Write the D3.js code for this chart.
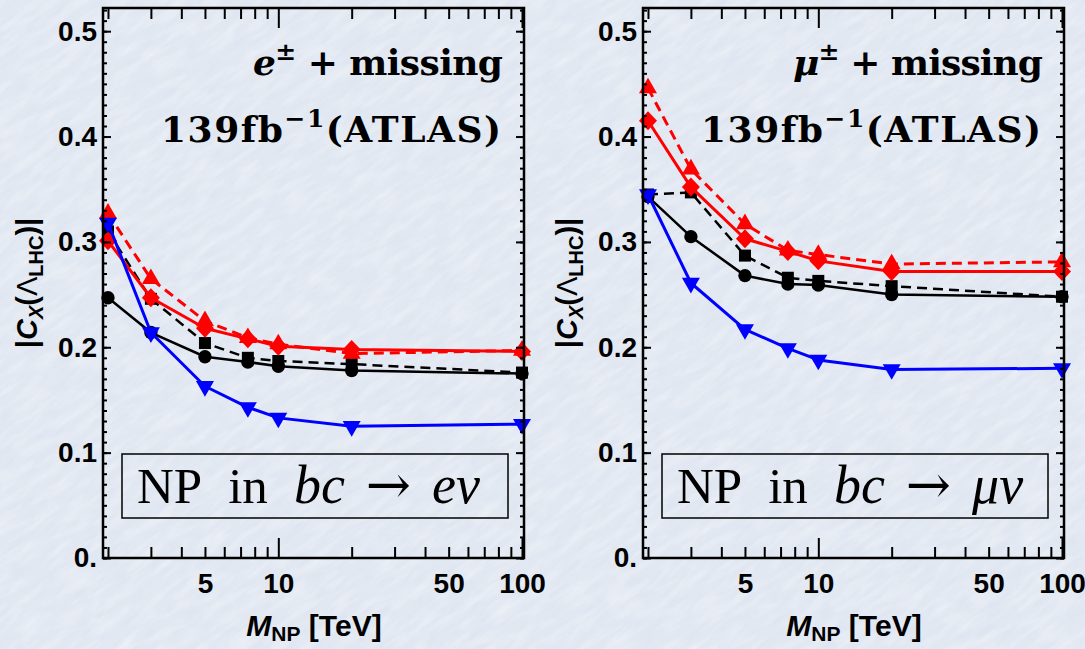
<!DOCTYPE html>
<html>
<head>
<meta charset="utf-8">
<script src="https://cdn.jsdelivr.net/npm/d3@7"></script>
<style>
html, body { margin: 0; padding: 0; background: #e3e9f3; }
svg { display: block; }
</style>
</head>
<body>
<script>
var w = 1085;
var h = 649;

// data
var masses = [2, 3, 5, 7.5, 10, 20, 100];
var xTickLabels = [5, 10, 50, 100];
var xMajorTicks = [10, 100];
var xMinorTicks = [2, 3, 4, 5, 6, 7, 8, 9, 20, 30, 40, 50, 60, 70, 80, 90];
var yTickValues = [0, 0.1, 0.2, 0.3, 0.4, 0.5];
var yTickLabels = ["0.", "0.1", "0.2", "0.3", "0.4", "0.5"];

// e channel
var eBlackSolid  = [0.247, 0.214, 0.191, 0.186, 0.182, 0.178, 0.175];
var eBlackDashed = [0.310, 0.246, 0.204, 0.190, 0.187, 0.184, 0.176];
var eRedSolid    = [0.301, 0.247, 0.218, 0.208, 0.201, 0.198, 0.196];
var eRedDashed   = [0.327, 0.265, 0.225, 0.209, 0.203, 0.194, 0.197];
var eBlue        = [0.318, 0.214, 0.163, 0.143, 0.133, 0.125, 0.127];

// mu channel
var mBlackSolid  = [0.343, 0.305, 0.268, 0.260, 0.259, 0.250, 0.248];
var mBlackDashed = [0.345, 0.347, 0.287, 0.266, 0.263, 0.258, 0.248];
var mRedSolid    = [0.415, 0.352, 0.303, 0.291, 0.282, 0.272, 0.272];
var mRedDashed   = [0.446, 0.369, 0.317, 0.292, 0.288, 0.279, 0.281];
var mBlue        = [0.345, 0.261, 0.217, 0.199, 0.188, 0.179, 0.180];

// styles, in drawing order
var styles = [
    {color: "#000000", dash: null,   width: 2.5, marker: "circle"},
    {color: "#000000", dash: "10,6", width: 2.5, marker: "square"},
    {color: "#ff0000", dash: null,   width: 3,   marker: "diamond"},
    {color: "#ff0000", dash: "10,6", width: 3,   marker: "up"},
    {color: "#0000ff", dash: null,   width: 3,   marker: "down"}
];

var svg = d3.select("body")
    .append("svg")
    .attr("width", w)
    .attr("height", h);

// paper-like background
var defs = svg.append("defs");
var f1 = defs.append("filter").attr("id", "paperLight")
    .attr("x", 0).attr("y", 0).attr("width", "100%").attr("height", "100%");
f1.append("feTurbulence").attr("type", "fractalNoise")
    .attr("baseFrequency", "0.03 0.12").attr("numOctaves", 4).attr("seed", 5);
f1.append("feColorMatrix").attr("type", "matrix")
    .attr("values", "0 0 0 0 1  0 0 0 0 1  0 0 0 0 1  2.0 0 0 0 -0.85");
var f2 = defs.append("filter").attr("id", "paperDark")
    .attr("x", 0).attr("y", 0).attr("width", "100%").attr("height", "100%");
f2.append("feTurbulence").attr("type", "fractalNoise")
    .attr("baseFrequency", "0.05 0.18").attr("numOctaves", 3).attr("seed", 11);
f2.append("feColorMatrix").attr("type", "matrix")
    .attr("values", "0 0 0 0 0.6  0 0 0 0 0.66  0 0 0 0 0.78  0 2.0 0 0 -0.95");

svg.append("rect").attr("width", w).attr("height", h).attr("fill", "#e2e8f2");
var bg = svg.append("g").attr("transform", "rotate(-35 542 324)");
bg.append("rect").attr("x", -400).attr("y", -500).attr("width", 1900).attr("height", 1700)
    .attr("filter", "url(#paperLight)").attr("opacity", 0.35);
bg.append("rect").attr("x", -400).attr("y", -500).attr("width", 1900).attr("height", 1700)
    .attr("filter", "url(#paperDark)").attr("opacity", 0.18);

function markerPath(type) {
    if (type == "circle") return d3.symbol(d3.symbolCircle, 140)();
    if (type == "square") return "M-6,-6L6,-6L6,6L-6,6Z";
    if (type == "diamond") return "M0,-9.5L9,0L0,9.5L-9,0Z";
    if (type == "up") return "M0,-10.4L9,5.2L-9,5.2Z";
    return "M0,10.4L9,-5.2L-9,-5.2Z";
}

var panels = [
    {left: 103, lep: "e", series: [eBlackSolid, eBlackDashed, eRedSolid, eRedDashed, eBlue]},
    {left: 643, lep: "\u03bc", series: [mBlackSolid, mBlackDashed, mRedSolid, mRedDashed, mBlue]}
];

var top0 = 8, bottom0 = 558, pw = 421;
var sansFont = "'Liberation Sans', Arial, sans-serif";
var serifFont = "'DejaVu Serif', serif";

panels.forEach(function(p) {
    var x = d3.scaleLog().domain([1.908, 101.9]).range([p.left, p.left + pw]);
    var y = d3.scaleLinear().domain([0, 0.522]).range([bottom0, top0]);
    var g = svg.append("g");

    // lines + markers
    var line = d3.line()
        .x(function(d) { return x(d[0]); })
        .y(function(d) { return y(d[1]); });
    p.series.forEach(function(vals, i) {
        var st = styles[i];
        var pts = masses.map(function(m, j) { return [m, vals[j]]; });
        g.append("path")
            .datum(pts)
            .attr("d", line)
            .attr("fill", "none")
            .attr("stroke", st.color)
            .attr("stroke-width", st.width)
            .attr("stroke-dasharray", st.dash)
            .attr("stroke-linejoin", "round");
        g.selectAll(null)
            .data(pts)
            .enter()
            .append("path")
            .attr("d", markerPath(st.marker))
            .attr("transform", function(d) { return "translate(" + x(d[0]) + "," + y(d[1]) + ")"; })
            .attr("fill", st.color);
    });

    // ticks (inward) on all four sides
    function tickAxis(axis, tr) {
        var a = g.append("g").attr("transform", tr).call(axis);
        a.select(".domain").remove();
        a.selectAll("line").attr("stroke", "#000").attr("stroke-width", 2);
        return a;
    }
    var yMinor = d3.range(0, 0.5201, 0.01);
    tickAxis(d3.axisBottom(x).tickValues(xMinorTicks).tickSize(-11).tickFormat(""), "translate(0," + bottom0 + ")");
    tickAxis(d3.axisBottom(x).tickValues(xMajorTicks).tickSize(-20).tickFormat(""), "translate(0," + bottom0 + ")");
    tickAxis(d3.axisTop(x).tickValues(xMinorTicks).tickSize(-11).tickFormat(""), "translate(0," + top0 + ")");
    tickAxis(d3.axisTop(x).tickValues(xMajorTicks).tickSize(-20).tickFormat(""), "translate(0," + top0 + ")");
    tickAxis(d3.axisLeft(y).tickValues(yMinor).tickSize(-4).tickFormat(""), "translate(" + p.left + ",0)");
    tickAxis(d3.axisLeft(y).tickValues(yTickValues).tickSize(-8).tickFormat(""), "translate(" + p.left + ",0)");
    tickAxis(d3.axisRight(y).tickValues(yMinor).tickSize(-4).tickFormat(""), "translate(" + (p.left + pw) + ",0)");
    tickAxis(d3.axisRight(y).tickValues(yTickValues).tickSize(-8).tickFormat(""), "translate(" + (p.left + pw) + ",0)");

    // tick labels
    var xl = g.append("g").attr("transform", "translate(0," + bottom0 + ")")
        .call(d3.axisBottom(x).tickValues(xTickLabels).tickSize(0).tickPadding(15).tickFormat(d3.format("d")));
    xl.select(".domain").remove();
    xl.selectAll("text").attr("font-family", sansFont).attr("font-size", 28).attr("font-weight", "bold").attr("fill", "#000");

    var yl = g.append("g").attr("transform", "translate(" + p.left + ",0)")
        .call(d3.axisLeft(y).tickValues(yTickValues).tickSize(0).tickPadding(6)
            .tickFormat(function(d, i) { return yTickLabels[i]; }));
    yl.select(".domain").remove();
    yl.selectAll("text").attr("font-family", sansFont).attr("font-size", 28).attr("font-weight", "bold").attr("fill", "#000");

    // frame
    g.append("rect")
        .attr("x", p.left).attr("y", top0)
        .attr("width", pw).attr("height", bottom0 - top0)
        .attr("fill", "none").attr("stroke", "#000").attr("stroke-width", 2.5);

    // axis titles
    var yt = g.append("text")
        .attr("transform", "translate(" + (p.left - 66) + "," + ((top0 + bottom0) / 2) + ") rotate(-90)")
        .attr("text-anchor", "middle")
        .attr("font-family", sansFont).attr("font-size", 29).attr("font-weight", "bold");
    yt.append("tspan").text("|");
    yt.append("tspan").attr("font-style", "italic").text("C");
    yt.append("tspan").attr("font-style", "italic").attr("font-size", 20).attr("dy", 6).text("X");
    yt.append("tspan").attr("dy", -6).text("(");
    yt.append("tspan").attr("font-weight", "normal").text("\u039b");
    yt.append("tspan").attr("font-size", 20).attr("dy", 6).text("LHC");
    yt.append("tspan").attr("dy", -6).text(")|");

    var xt = g.append("text")
        .attr("x", p.left + 211).attr("y", 636)
        .attr("text-anchor", "middle")
        .attr("font-family", sansFont).attr("font-size", 30).attr("font-weight", "bold");
    xt.append("tspan").attr("font-style", "italic").text("M");
    xt.append("tspan").attr("font-size", 21).attr("dy", 5).text("NP");
    xt.append("tspan").attr("dy", -5).text("\u00a0[TeV]");

    // annotations
    var a1 = g.append("text")
        .attr("x", p.left + pw - 21 - 250).attr("y", 75)
        .attr("textLength", 250).attr("lengthAdjust", "spacing")
        .attr("font-family", serifFont).attr("font-size", 36).attr("font-weight", "bold");
    a1.append("tspan").attr("font-style", "italic").text(p.lep);
    a1.append("tspan").attr("font-size", 25).attr("dy", -15).text("\u00b1");
    a1.append("tspan").attr("dy", 15).text(" + missing");

    var a2 = g.append("text")
        .attr("x", p.left + pw - 23 - 340).attr("y", 142)
        .attr("textLength", 340).attr("lengthAdjust", "spacing")
        .attr("font-family", serifFont).attr("font-size", 36).attr("font-weight", "bold");
    a2.append("tspan").text("139fb");
    a2.append("tspan").attr("font-size", 25).attr("dy", -15).text("\u22121");
    a2.append("tspan").attr("dy", 15).text("(ATLAS)");

    // boxed label
    g.append("rect")
        .attr("x", p.left + 19).attr("y", 454)
        .attr("width", 386).attr("height", 64)
        .attr("fill", "none").attr("stroke", "#000").attr("stroke-width", 1.5);
    var bl = g.append("text")
        .attr("x", p.left + 34).attr("y", 503)
        .attr("font-family", "'Liberation Serif', serif").attr("font-size", 51);
    bl.append("tspan").text("NP");
    bl.append("tspan").attr("dx", 26).text("in");
    bl.append("tspan").attr("dx", 26).attr("font-style", "italic").attr("font-size", 54).text("bc");
    bl.append("tspan").attr("dx", 21).attr("font-family", "'DejaVu Serif', serif").attr("font-size", 54).text("\u2192");
    bl.append("tspan").attr("dx", 21).attr("font-style", "italic").attr("font-size", 54).text(p.lep + "\u03bd");
});
</script>
</body>
</html>
